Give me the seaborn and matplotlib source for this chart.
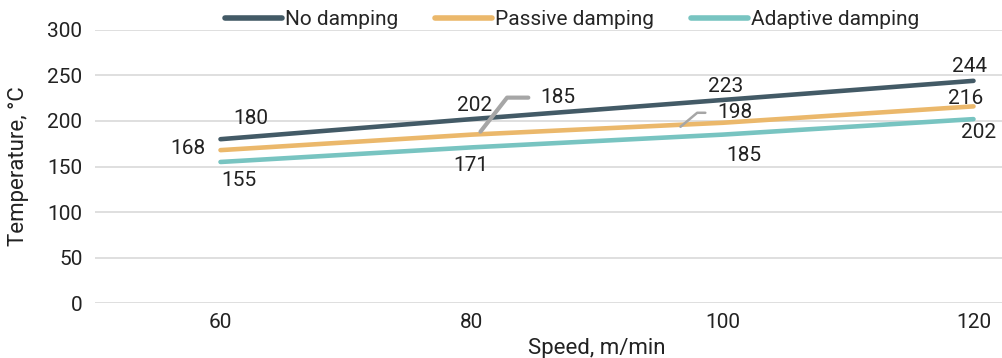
import matplotlib
matplotlib.use("Agg")
import matplotlib.pyplot as plt
import matplotlib.transforms as mtransforms
import seaborn as sns
import pandas as pd

speeds = ["60", "80", "100", "120"]
no_damping = [180, 202, 223, 244]
passive_damping = [168, 185, 198, 216]
adaptive_damping = [155, 171, 185, 202]
series_names = ["No damping", "Passive damping", "Adaptive damping"]
colors = ["#435a66", "#ebb86b", "#78c4c1"]
y_ticks = [0, 50, 100, 150, 200, 250, 300]

df = pd.DataFrame({
    "Speed": speeds * 3,
    "Temperature": no_damping + passive_damping + adaptive_damping,
    "Series": [s for s in series_names for _ in speeds],
})

sns.set_theme(style="white")
plt.rcParams["font.family"] = ["Roboto", "DejaVu Sans"]

fig = plt.figure(figsize=(10.02, 3.58), dpi=100)
ax = fig.add_axes([95 / 1002, 0.1528, 1004 / 1002, 0.764])

sns.lineplot(data=df, x="Speed", y="Temperature", hue="Series",
             palette=colors, linewidth=3.3, ax=ax, sort=False,
             legend=True, solid_capstyle="round")

ax.set_xlim(-0.5, 3.5)
ax.set_ylim(0, 300)
ax.set_yticks(y_ticks)
ax.grid(axis="y", color="#d9d9d9", linewidth=1.2)
ax.grid(axis="x", visible=False)
for s in ax.spines.values():
    s.set_visible(False)
ax.tick_params(axis="both", length=0, labelsize=15, colors="#222222")
ax.tick_params(axis="y", pad=9)
ax.tick_params(axis="x", pad=7)
ax.set_xlabel("Speed, m/min", fontsize=16, color="#222222", labelpad=4)
ax.set_ylabel("Temperature, °C", fontsize=16, color="#222222")
ax.yaxis.set_label_coords(-0.066, 0.5)

# data labels: (dx, dy) offsets in pixels
offsets = {
    "No damping": [(30, 21), (3, 14), (3, 13), (-4, 14)],
    "Passive damping": [(-33, 2), None, None, (-8, 8)],
    "Adaptive damping": [(18, -19), (-1, -18), (21, -21), (5, -13)],
}
values = {"No damping": no_damping, "Passive damping": passive_damping,
          "Adaptive damping": adaptive_damping}
for name in series_names:
    for i, v in enumerate(values[name]):
        off = offsets[name][i]
        if off is None:
            continue
        ax.annotate(str(v), xy=(i, v), xytext=off, textcoords="offset pixels",
                    ha="center", va="center", fontsize=15, color="#222222")

# labels with leader lines (passive damping at 80 and 100)
leaders = [
    # index, leader end offset (px), text offset from leader end (px), angleB, lw
    (1, (9, 3), (77, 34), 52, 3.0),
    (2, (-42, -4), (54, 14), 40, 1.8),
]
for i, end_off, txt_off, angB, lw in leaders:
    tr = mtransforms.offset_copy(ax.transData, fig=fig, x=end_off[0], y=end_off[1], units="dots")
    ax.annotate(str(passive_damping[i]), xy=(i, passive_damping[i]), xycoords=tr,
                xytext=txt_off, textcoords="offset pixels",
                ha="center", va="center", fontsize=15, color="#222222",
                arrowprops=dict(arrowstyle="-", color="#a6a6a6", lw=lw,
                                connectionstyle=f"angle,angleA=0,angleB={angB},rad=0",
                                relpos=(0, 0.5), shrinkA=6, shrinkB=0))

ax.get_legend().remove()
handles, labels = ax.get_legend_handles_labels()
for h in handles:
    h.set_linewidth(4)
fig.legend(handles, labels, loc="center", bbox_to_anchor=(0.571, 0.946), ncol=3,
           frameon=False, handlelength=2.7, handletextpad=0.15,
           columnspacing=1.8, prop={"family": ["Roboto"], "size": 15},
           borderpad=0, borderaxespad=0)

fig.savefig("out.png", dpi=100)
